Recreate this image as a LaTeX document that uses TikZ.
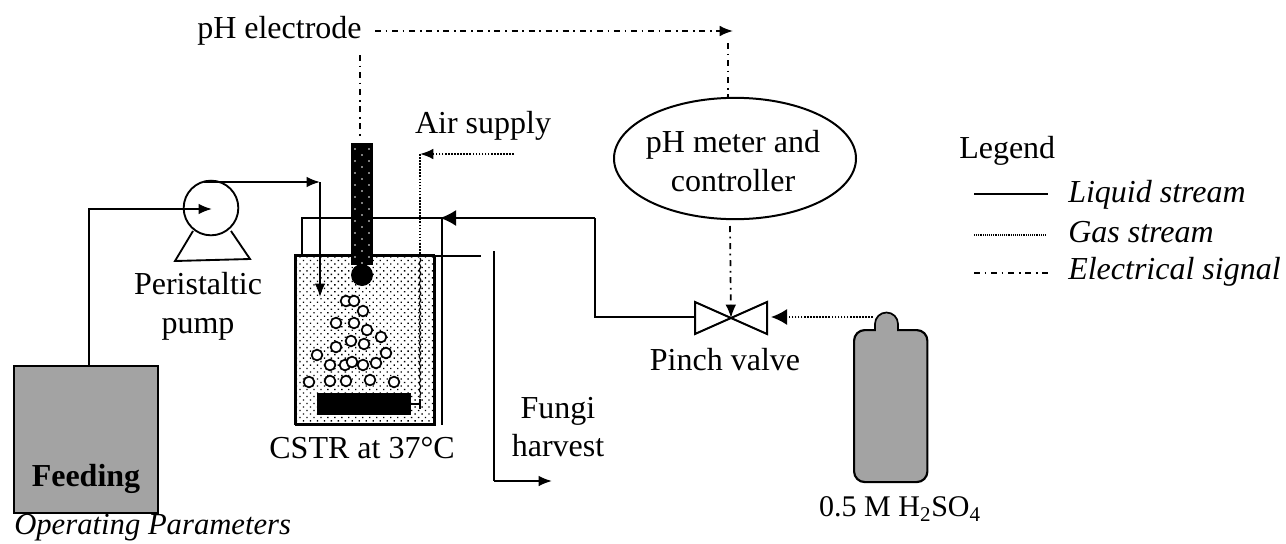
\documentclass[tikz,border=0pt]{standalone}
\usepackage{fontspec}
\setmainfont{Liberation Serif}
\usetikzlibrary{arrows.meta,patterns.meta,decorations.pathmorphing,shapes.geometric}
\tikzset{
  x=0.75pt,y=-0.75pt,
  every node/.style={font=\fontsize{24}{27}\selectfont,inner sep=0pt,align=center},
  liquid/.style={draw=black,line width=1.5pt},
  gas/.style={draw=black,line width=1.3pt,dash pattern=on 1.2pt off 1.1pt},
  elec/.style={draw=black,line width=1.3pt,dash pattern=on 4.5pt off 3.5pt on 1.3pt off 3.5pt},
  tip/.style={-{Latex[length=10pt,width=8pt]}},
  bigtip/.style={-{Latex[length=12pt,width=12pt]}},
  gray box/.style={draw=black,line width=1.6pt,fill=black!36},
  bubble/.style={circle,draw=black,fill=white,line width=1.3pt,minimum size=8pt},
}
\begin{document}
\begin{tikzpicture}
\useasboundingbox (0,0) rectangle (1286,543);
% feeding
\node[gray box,minimum width=108pt,minimum height=110pt,anchor=north west] (feed) at (12.5,365) {};
\node[font=\fontsize{24}{25}\selectfont\bfseries] (feedt) at (86,479) {Feeding};
\node[font=\fontsize{23}{25}\selectfont\itshape,anchor=west] (oper) at (14,528) {Operating Parameters};
% pump
\node[circle,draw=black,line width=1.4pt,minimum size=41pt] (pump) at (211,208) {};
\coordinate (pumpin) at (212,209);
\coordinate (feedout) at (89,365);
\draw[line width=1.4pt] (193,231) -- (175,261) -- (250,259) -- (231,231);
\draw[liquid,tip] (feedout) |- (pumpin);
\node (pumpt) at (198,306) {Peristaltic\\[2pt]pump};
% tank
\node[draw=black,line width=1.5pt,minimum width=104pt,minimum height=126.5pt,anchor=north west,
      pattern={Dots[radius=0.7pt,distance=3.7pt,angle=45]},pattern color=black] (tank) at (295,255) {};
\draw[line width=1.5pt] (295,255) rectangle (434,424);
\node[fill=black,minimum width=70pt,minimum height=16pt,anchor=north west] (bar) at (317,393) {};
% liquid lines
\coordinate (pumptop) at (204,182);
\coordinate (inturn) at (320,182);
\coordinate (inend) at (320,297);
\draw[liquid,tip] (pumptop) -- (inturn);
\draw[liquid,tip] (inturn) -- (inend);
\coordinate (recyc) at (302,255);
\coordinate (recyctop) at (302,218);
\coordinate (tee) at (442,218);
\coordinate (jacket) at (442,425);
\draw[liquid] (recyc) -- (recyctop) -- (tee) -- (jacket);
% electrode
\node[fill=black,minimum width=16.5pt,minimum height=91pt,anchor=north west] (probe) at (351,143) {};
\node[circle,fill=black,minimum size=16.5pt] (bulb) at (362,275) {};
\foreach \y in {149,161,...,263}{
  \fill[white] (355,\y) circle (0.6pt) (369,\y) circle (0.6pt);
  \fill[white] (362,\y+6) circle (0.6pt);
}
% bubbles
\foreach \bx/\by in {346/301,354/301,363/311,336/323,354/323,367/330,381/337,336/347,351/341,364/344,317/355,386/353,330/365,345/365,352/362,363/365,376/363,309/382,330/381,346/381,370/380,394/382}{
  \node[bubble] at (\bx,\by) {};
}
% valve
\coordinate (vc) at (731,318);
\draw[line width=1.5pt,fill=white] (vc) -- (695,302) -- (695,334) -- cycle;
\draw[line width=1.5pt,fill=white] (vc) -- (767,302) -- (767,334) -- cycle;
\coordinate (vl) at (694,317);
\coordinate (va) at (595,317);
\coordinate (vb) at (595,218);
\draw[liquid] (vl) -- (va) -- (vb);
\draw[liquid,bigtip] (vb) -- (440,218);
\node (pvt) at (725,360) {Pinch valve};
% outlet
\coordinate (o1) at (434,256);
\coordinate (o2) at (481,256);
\draw[liquid] (o1) -- (o2);
\coordinate (h1) at (494,251);
\coordinate (h2) at (494,481);
\coordinate (h3) at (552,481);
\draw[liquid] (h1) -- (h2);
\draw[liquid,tip] (h2) -- (h3);
\node (fh) at (558,427) {Fungi\\[2pt]harvest};
\node (cstr) at (362,448) {CSTR at 37°C};
% air
\node (air) at (483,126) {Air supply};
\coordinate (a1) at (514,154);
\coordinate (a2) at (420,154);
\coordinate (a3) at (420,255);
\draw[gas,tip] (a1) -- (a2);
\draw[gas] (a2) -- (a3);
\draw[line width=0.9pt,decorate,decoration={snake,amplitude=0.6pt,segment length=5pt}] (420,258) -- (420,398);
\draw[line width=0.9pt] (411,404) -- (420,404) (420,399) -- (420,409);
% bottle
\draw[draw=black,line width=1.3pt,fill=black!36] (875,331) -- (875,324) arc (180:360:11.5) -- (898,331) -- cycle;
\node[draw=black,fill=black!36,line width=1.6pt,rounded corners=8pt,minimum width=55pt,minimum height=114pt,anchor=north west] (bottle) at (853,329) {};
\fill[black!36] (876,327) rectangle (897,333);
\node[font=\fontsize{22.5}{27}\selectfont] (acid) at (900,509) {0.5 M H\textsubscript{2}SO\textsubscript{4}};
\coordinate (b1) at (873,317);
\coordinate (b2) at (771,317);
\draw[gas,bigtip] (b1) -- (b2);
% electrical
\node[anchor=west] (phe) at (197,31) {pH electrode};
\node[ellipse,draw=black,line width=1.5pt,minimum width=181.5pt,minimum height=91pt] (meter) at (735,158.5) {};
\node (metert) at (733,161) {pH meter and\\[2pt]controller};
\coordinate (e1) at (360,55);
\coordinate (e1b) at (360,137);
\draw[elec] (e1) -- (e1b);
\coordinate (e2) at (375,31);
\coordinate (e3) at (733,31);
\draw[elec,tip] (e2) -- (e3);
\coordinate (e4) at (728,43);
\coordinate (e5) at (728,98);
\draw[elec] (e4) -- (e5);
\coordinate (e6) at (730,226);
\draw[elec,tip] (e6) -- (vc);
% legend
\node[anchor=west] (lg) at (959,151) {Legend};
\coordinate (l1a) at (974,194);\coordinate (l1b) at (1048,194);
\coordinate (l2a) at (974,235);\coordinate (l2b) at (1045,235);
\coordinate (l3a) at (974,273);\coordinate (l3b) at (1048,273);
\draw[liquid] (l1a) -- (l1b);
\draw[draw=black,line width=0.9pt,dash pattern=on 0.7pt off 0.7pt] (l2a) -- (l2b);
\draw[elec] (l3a) -- (l3b);
\node[anchor=west,font=\fontsize{24}{25}\selectfont\itshape] (t1) at (1068,195) {Liquid stream};
\node[anchor=west,font=\fontsize{24}{25}\selectfont\itshape] (t2) at (1068,232) {Gas stream};
\node[anchor=west,font=\fontsize{24}{25}\selectfont\itshape] (t3) at (1068,272) {Electrical signal};
\end{tikzpicture}
\end{document}
